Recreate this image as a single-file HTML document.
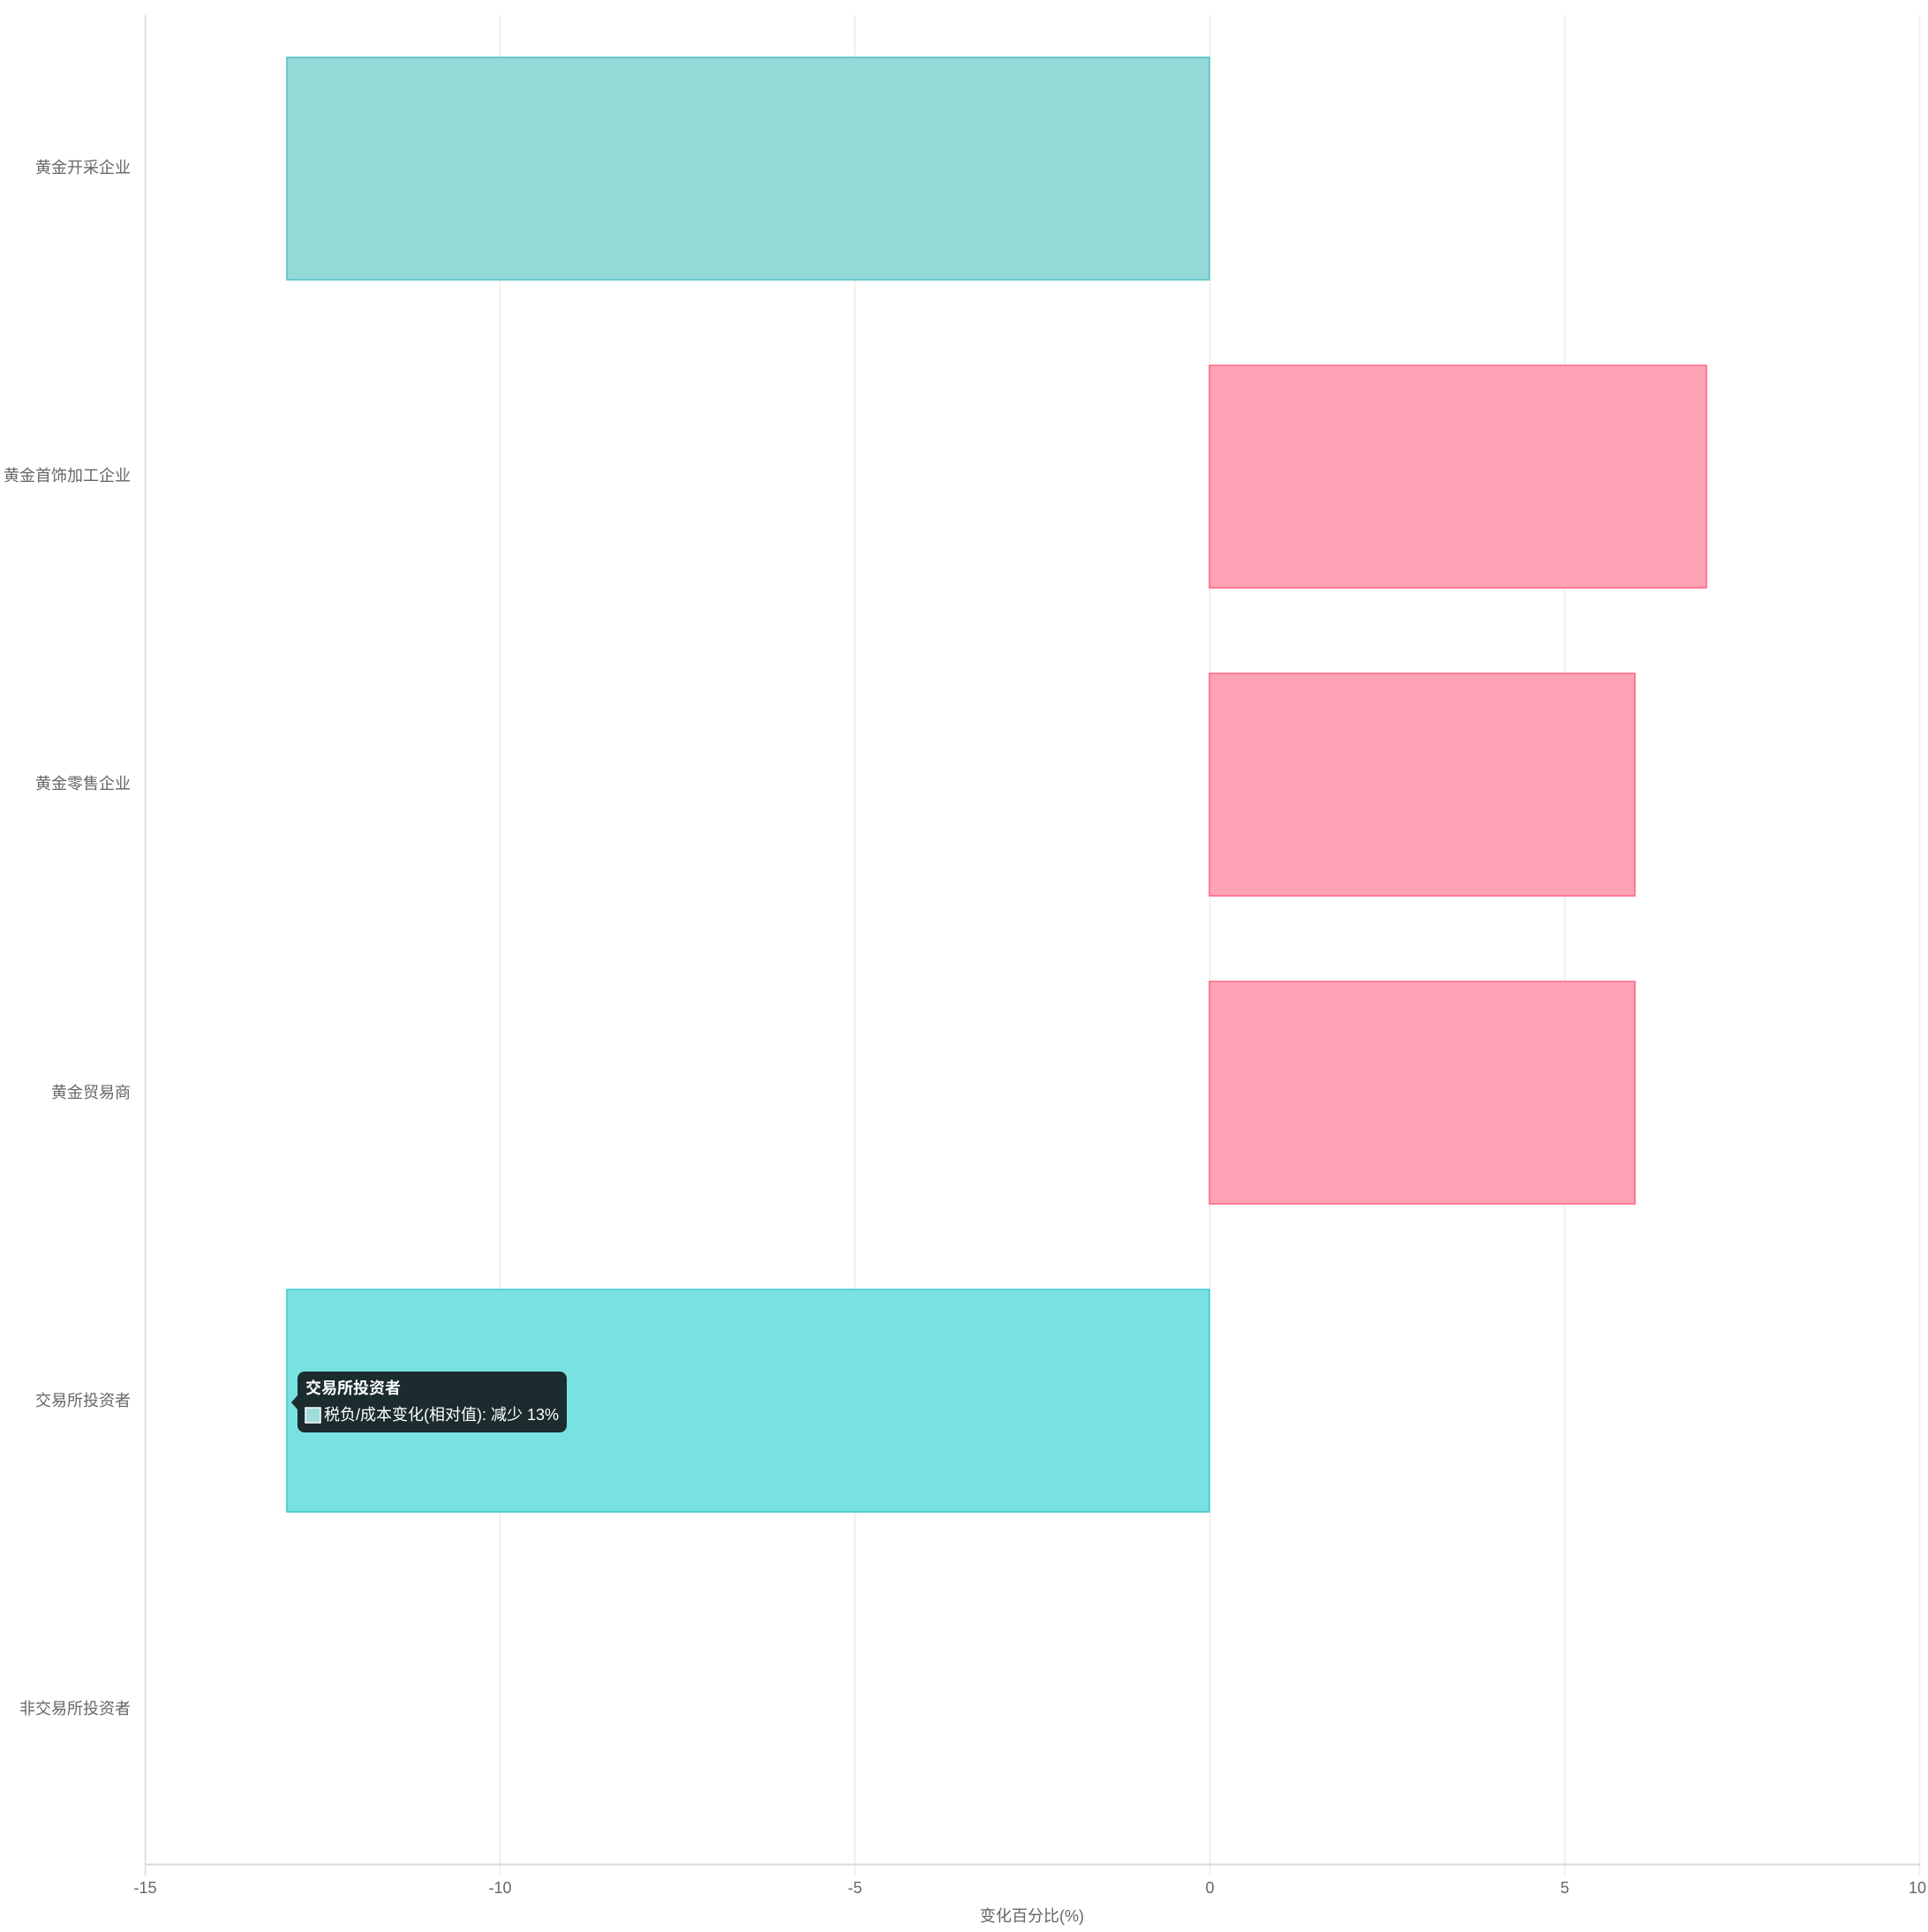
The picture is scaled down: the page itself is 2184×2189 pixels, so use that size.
<!DOCTYPE html>
<html><head><meta charset="utf-8"><style>
body{margin:0;background:#fff;}
svg text{font-family:"Liberation Sans","Noto Sans CJK SC",sans-serif;}
</style></head><body>
<svg width="2184" height="2184" xmlns="http://www.w3.org/2000/svg">
<g stroke="#ececec" stroke-width="1.5">
<line x1="566.5" y1="17" x2="566.5" y2="2125"/>
<line x1="968.5" y1="17" x2="968.5" y2="2125"/>
<line x1="1370.5" y1="17" x2="1370.5" y2="2125"/>
<line x1="1772.5" y1="17" x2="1772.5" y2="2125"/>
<line x1="2174.5" y1="17" x2="2174.5" y2="2125"/>
</g>
<line x1="164.5" y1="17" x2="164.5" y2="2125" stroke="#d9d9d9" stroke-width="1.5"/>
<line x1="164" y1="2112.5" x2="2175" y2="2112.5" stroke="#d9d9d9" stroke-width="2"/>
<rect x="325" y="65" width="1045" height="252" fill="#96d9d9" stroke="#4bc0c0" stroke-width="1.5"/>
<rect x="1370" y="414" width="563" height="252" fill="#fea3b5" stroke="#ff6384" stroke-width="1.5"/>
<rect x="1370" y="763" width="482" height="252" fill="#fea3b5" stroke="#ff6384" stroke-width="1.5"/>
<rect x="1370" y="1112" width="482" height="252" fill="#fea3b5" stroke="#ff6384" stroke-width="1.5"/>
<rect x="325" y="1461" width="1045" height="252" fill="#78e1e1" stroke="#3cc8c8" stroke-width="1.5"/>
<g fill="#666" font-size="18" text-anchor="end">
<text x="148" y="196">黄金开采企业</text>
<text x="148" y="545">黄金首饰加工企业</text>
<text x="148" y="894">黄金零售企业</text>
<text x="148" y="1244">黄金贸易商</text>
<text x="148" y="1593">交易所投资者</text>
<text x="148" y="1942">非交易所投资者</text>
</g>
<g fill="#666" font-size="18" text-anchor="middle">
<text x="164.5" y="2145">-15</text>
<text x="566.5" y="2145">-10</text>
<text x="968.5" y="2145">-5</text>
<text x="1370.5" y="2145">0</text>
<text x="1772.5" y="2145">5</text>
<text x="2172" y="2145">10</text>
<text x="1169" y="2177">变化百分比(%)</text>
</g>
<rect x="337" y="1554" width="305" height="69" rx="8" fill="#1b2b2e"/>
<polygon points="337,1581 330,1589 337,1597" fill="#1b2b2e"/>
<text x="346" y="1579" fill="#fff" font-size="18" font-weight="bold">交易所投资者</text>
<rect x="346" y="1595" width="17" height="17" fill="#a0dcdc" stroke="#fff" stroke-width="1.5"/>
<text x="367" y="1609" fill="#fff" font-size="18">税负/成本变化(相对值): 减少 13%</text>
</svg>
</body></html>
